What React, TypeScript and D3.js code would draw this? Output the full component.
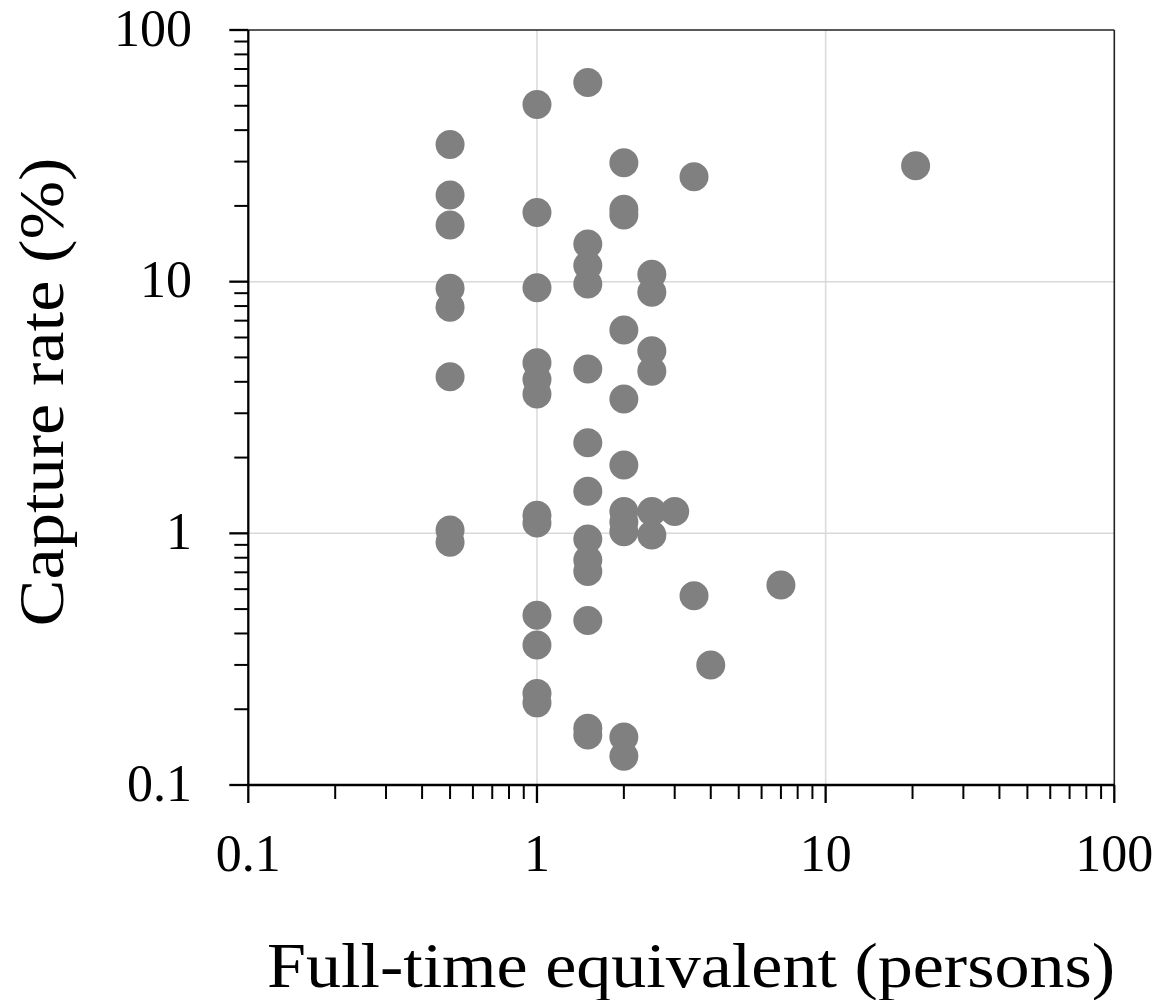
import React from "react";
import * as d3 from "d3";

// Full-time equivalent (persons)
const fte = [
  0.5, 0.5, 0.5, 0.5, 0.5, 0.5, 0.5, 0.5,
  1, 1, 1, 1, 1, 1, 1, 1, 1, 1, 1, 1,
  1.5, 1.5, 1.5, 1.5, 1.5, 1.5, 1.5, 1.5, 1.5, 1.5, 1.5, 1.5, 1.5,
  2, 2, 2, 2, 2, 2, 2, 2, 2, 2, 2,
  2.5, 2.5, 2.5, 2.5, 2.5, 2.5,
  3, 3.5, 3.5, 4, 7, 20.5,
];
// Capture rate (%)
const captureRate = [
  35.1, 22.1, 16.8, 9.41, 7.91, 4.19, 1.03, 0.921,
  50.6, 18.85, 9.46, 4.76, 4.09, 3.58, 1.18, 1.1, 0.473, 0.36, 0.231, 0.212,
  61.9, 14.1, 11.6, 9.78, 4.5, 2.29, 1.47, 0.949, 0.783, 0.706, 0.45, 0.168, 0.158,
  29.7, 19.4, 18.4, 6.42, 3.42, 1.87, 1.22, 1.11, 1.015, 0.155, 0.13,
  10.7, 9.07, 5.31, 4.41, 1.22, 0.985,
  1.22, 26.1, 0.565, 0.3, 0.623, 28.9,
];
const majorTicks = [0.1, 1, 10, 100];
const tickLabels = ["0.1", "1", "10", "100"];
const xTitle = "Full-time equivalent (persons)";
const yTitle = "Capture rate (%)";

const FONT = "'Liberation Serif', 'Times New Roman', serif";

export default function App() {
  const left = 248.3, right = 1114.3, top = 30, bottom = 785;
  const x = d3.scaleLog().domain([0.1, 100]).range([left, right]);
  const y = d3.scaleLog().domain([0.1, 100]).range([bottom, top]);

  const minor: number[] = [];
  for (const dec of [0.1, 1, 10]) for (let k = 2; k <= 9; k++) minor.push(dec * k);

  const pts = fte.map((v, i) => ({ fx: v, cr: captureRate[i] }));

  return (
    <svg width={1161} height={1000} style={{ position: "absolute", left: 0, top: 0, background: "#fff" }}>
      {/* grid */}
      {majorTicks.slice(1, 3).map((t) => (
        <g key={"g" + t}>
          <line x1={x(t)} x2={x(t)} y1={top} y2={bottom} stroke="#d9d9d9" strokeWidth={1.5} />
          <line x1={left} x2={right} y1={y(t)} y2={y(t)} stroke="#d9d9d9" strokeWidth={1.5} />
        </g>
      ))}
      {/* frame top/right */}
      <line x1={left} x2={right} y1={top} y2={top} stroke="#222" strokeWidth={1.6} />
      <line x1={right} x2={right} y1={top} y2={bottom} stroke="#222" strokeWidth={1.6} />
      {/* points */}
      {pts.map((p, i) => (
        <circle key={i} cx={x(p.fx)} cy={y(p.cr)} r={14.5} fill="#808080" />
      ))}
      {/* axes */}
      <line x1={left} x2={left} y1={top} y2={bottom} stroke="#000" strokeWidth={2.3} />
      <line x1={left} x2={right} y1={bottom} y2={bottom} stroke="#000" strokeWidth={2.3} />
      {majorTicks.map((t) => (
        <g key={"mt" + t}>
          <line x1={left - 19} x2={left} y1={y(t)} y2={y(t)} stroke="#000" strokeWidth={2.3} />
          <line x1={x(t)} x2={x(t)} y1={bottom} y2={bottom + 18} stroke="#000" strokeWidth={2.3} />
        </g>
      ))}
      {minor.map((t) => (
        <g key={"mn" + t}>
          <line x1={left - 14} x2={left} y1={y(t)} y2={y(t)} stroke="#000" strokeWidth={2} />
          <line x1={x(t)} x2={x(t)} y1={bottom} y2={bottom + 14} stroke="#000" strokeWidth={2} />
        </g>
      ))}
      {/* tick labels */}
      {majorTicks.map((t, i) => (
        <text key={"yl" + t} x={192} y={y(t) + 15.5} textAnchor="end" fontFamily={FONT} fontSize={52} fill="#000">
          {tickLabels[i]}
        </text>
      ))}
      {majorTicks.map((t, i) => (
        <text key={"xl" + t} x={x(t)} y={871} textAnchor="middle" fontFamily={FONT} fontSize={52} fill="#000">
          {tickLabels[i]}
        </text>
      ))}
      {/* titles */}
      <text x={691} y={987} textAnchor="middle" fontFamily={FONT} fontSize={64} fill="#000"
        textLength={848} lengthAdjust="spacingAndGlyphs">
        {xTitle}
      </text>
      <text transform="translate(63,392) rotate(-90)" textAnchor="middle" fontFamily={FONT} fontSize={64} fill="#000"
        textLength={469} lengthAdjust="spacingAndGlyphs">
        {yTitle}
      </text>
    </svg>
  );
}
